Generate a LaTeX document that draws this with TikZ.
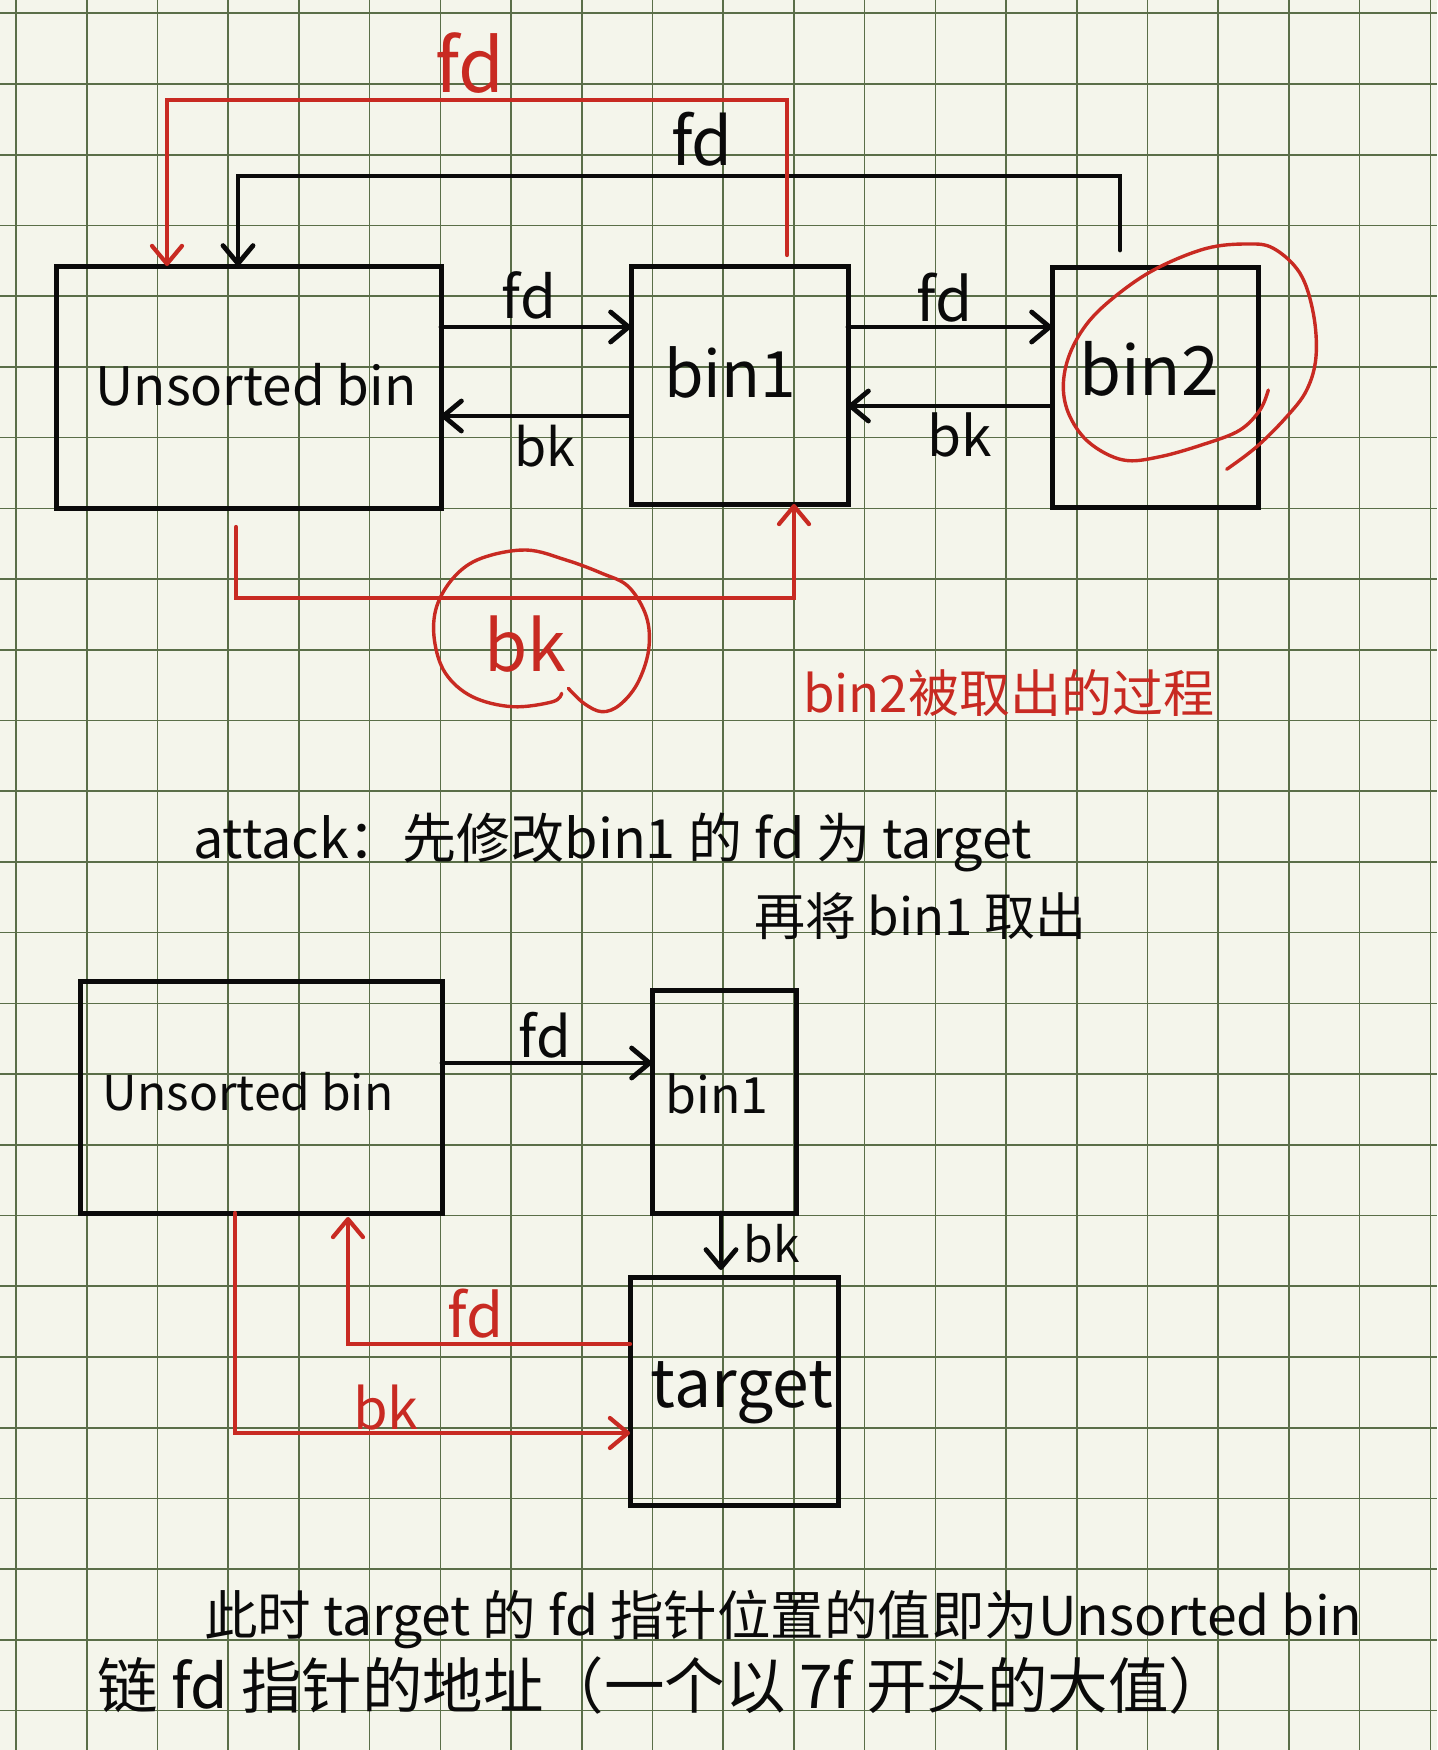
\documentclass[tikz,border=0pt]{standalone}
\usepackage{fontspec}
\setmainfont{Noto Sans CJK SC}
\usetikzlibrary{arrows.meta,calc}
\definecolor{paper}{RGB}{244,245,235}
\definecolor{gridc}{RGB}{90,110,72}
\definecolor{pen}{RGB}{10,10,10}
\definecolor{redpen}{RGB}{200,42,34}
\newcommand{\fs}[1]{\fontsize{#1}{#1}\selectfont}
\begin{document}
\begin{tikzpicture}[x=1pt,y=-1pt,
  gridline/.style={draw=gridc, line width=1.6pt},
  box/.style={draw=pen, line width=5pt, inner sep=0pt, outer sep=0pt},
  blk/.style={draw=pen, line width=4.8pt, line cap=round, line join=miter},
  rd/.style={draw=redpen, line width=4.2pt, line cap=round, line join=miter},
  tip/.style={-{Straight Barb[length=18pt,width=30pt,round]}},
  lbl/.style={inner sep=0pt, anchor=base, text=pen},
  rlbl/.style={inner sep=0pt, anchor=base, text=redpen},
  txt/.style={inner sep=0pt, anchor=base west, text=pen}
]
\useasboundingbox (0,0) rectangle (1437,1750);
\fill[paper] (0,0) rectangle (1437,1750);
\foreach \i in {0,...,20} \draw[gridline] ({16+70.72*\i},0) -- ({16+70.72*\i},1750);
\foreach \j in {0,...,24} \draw[gridline] (0,{13.3+70.72*\j}) -- (1437,{13.3+70.72*\j});

% ---------- top diagram ----------
\node[box, minimum width=385pt, minimum height=242pt] (ub) at (248.5,387) {};
\node[box, minimum width=217pt, minimum height=238pt] (b1) at (739.5,385) {};
\node[box, minimum width=206pt, minimum height=240pt] (b2) at (1155,387) {};
\node[lbl, font=\fs{53}] (ubt) at (256,405) {Unsorted bin};
\node[lbl, font=\fs{64}] (b1t) at (730,397) {bin1};
\node[lbl, font=\fs{68}] (b2t) at (1149,395) {bin2};

\coordinate (yfd) at (0,327);
\coordinate (ybk) at (0,416);
\coordinate (ybkb) at (0,406);
\draw[blk,tip] (ub.east |- yfd) -- (b1.west |- yfd);
\draw[blk,tip] (b1.west |- ybk) -- (ub.east |- ybk);
\draw[blk,tip] (b1.east |- yfd) -- (b2.west |- yfd);
\draw[blk,tip] (b2.west |- ybkb) -- (b1.east |- ybkb);
\node[lbl, font=\fs{58}] (l1) at (529,318) {fd};
\node[lbl, font=\fs{52}] (l2) at (545,466) {bk};
\node[lbl, font=\fs{60}] (l3) at (945,321) {fd};
\node[lbl, font=\fs{55}] (l4) at (960,456) {bk};

% black fd loop bin2 -> unsorted
\coordinate (kA) at (1120,176);
\coordinate (kB) at (238,176);
\draw[blk,tip,shorten <=17pt] (b2.north -| kA) -- (kA) -- (kB) -- (ub.north -| kB);
\node[lbl, font=\fs{66}] (l5) at (702,165) {fd};

% red fd loop bin1 -> unsorted
\coordinate (rA) at (787,100);
\coordinate (rB) at (167,100);
\draw[rd,tip,shorten <=11pt] (b1.north -| rA) -- (rA) -- (rB) -- (ub.north -| rB);
\node[rlbl, font=\fs{74}] (l6) at (470,93) {fd};

% red bk loop unsorted -> bin1
\coordinate (rC) at (236,598);
\coordinate (rD) at (794,598);
\draw[rd,tip,shorten <=19pt] (ub.south -| rC) -- (rC) -- (rD) -- (b1.south -| rD);
\node[rlbl, font=\fs{70}] (l7) at (525,671) {bk};

% red hand-drawn circles
\draw[rd, line width=3.4pt] plot[smooth, tension=0.6] coordinates {
 (561.6,693.3) (552.7,701.7) (512.5,706.7) (472.3,696.7) (445.5,673.3) (434.4,640)
 (436.6,606.7) (454.4,576.7) (481.2,558.3) (525.9,550) (566,560) (601.8,573.3)
 (628.5,586.7) (646.4,616.7) (648.6,650) (637.5,683.3) (619.6,705) (601.8,711.7)
 (583.9,703.3) (568.3,688.3)};
\draw[rd, line width=3.4pt] plot[smooth, tension=0.6] coordinates {
 (1226.7,469.3) (1256.7,446.7) (1286.7,416.7) (1306.7,390) (1316,356.7) (1313.3,313.3)
 (1300,273.3) (1273.3,248.3) (1246.7,244) (1206.7,248.3) (1160,266.7) (1123.3,290)
 (1090,320) (1070,353.3) (1063.3,386.7) (1070,416.7) (1090,443.3) (1123.3,460)
 (1160,456.7) (1206.7,443.3) (1240,430) (1260,410) (1268.3,390)};

\node[txt, text=redpen, font=\fs{51}] (cap1) at (803,712) {bin2被取出的过程};

% ---------- middle text ----------
\node[txt, font=\fs{54}] (att1) at (193,858) {attack：先修改bin1 的 fd 为 target};
\node[txt, font=\fs{51}] (att2) at (754,935) {再将 bin1 取出};

% ---------- bottom diagram ----------
\node[box, minimum width=362pt, minimum height=232pt] (ub2) at (261,1097) {};
\node[box, minimum width=144pt, minimum height=223pt] (b12) at (724,1101.5) {};
\node[box, minimum width=208pt, minimum height=228pt] (tg) at (734,1391) {};
\node[lbl, font=\fs{48}] (ub2t) at (248,1110) {Unsorted bin};
\node[lbl, font=\fs{50}] (b12t) at (717,1113) {bin1};
\node[lbl, font=\fs{66}] (tgt) at (742,1407) {target};

\coordinate (yfdc) at (0,1063);
\draw[blk,tip] (ub2.east |- yfdc) -- (b12.west |- yfdc);
\node[lbl, font=\fs{56}] (l8) at (545,1057) {fd};

\coordinate (xbk) at (721,0);
\draw[blk,tip,shorten >=7pt] (b12.south -| xbk) -- (tg.north -| xbk);
\node[lbl, font=\fs{48}] (l9) at (772,1262) {bk};

\coordinate (rE) at (348,1344);
\draw[rd,tip,shorten >=4pt] (tg.west |- rE) -- (rE) -- (ub2.south -| rE);
\node[rlbl, font=\fs{60}] (l10) at (476,1337) {fd};

\coordinate (rF) at (235,1433);
\draw[rd,tip] (ub2.south -| rF) -- (rF) -- (tg.west |- rF);
\node[rlbl, font=\fs{56}] (l11) at (386,1429) {bk};

% ---------- bottom text ----------
\node[txt, font=\fs{53.5}] (n1) at (204,1635) {此时 target 的 fd 指针位置的值即为Unsorted bin};
\node[txt, font=\fs{60.5}] (n2) at (97,1708) {链 fd 指针的地址（一个以 7f 开头的大值）};
\end{tikzpicture}
\end{document}
